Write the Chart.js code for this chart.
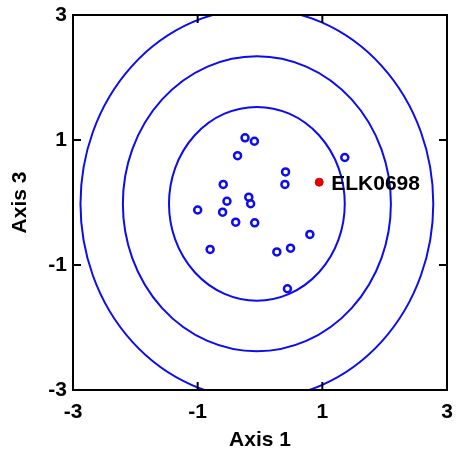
<!DOCTYPE html>
<html>
<head>
<meta charset="utf-8">
<script src="https://cdn.jsdelivr.net/npm/chart.js@4/dist/chart.umd.min.js"></script>
<style>
  html, body { margin: 0; padding: 0; background: #fff; }
  #wrap { width: 457px; height: 456px; }
</style>
</head>
<body>
<div id="wrap"><canvas id="chart"></canvas></div>
<script>
// sample scores on axis 1 / axis 3
const axis1 = [-0.24, -0.09, -0.36, 0.41, 1.36, -0.59, 0.40, -0.18, -0.15, -0.53,
  -1.00, -0.60, -0.39, -0.085, 0.80, -0.80, 0.27, 0.49, 0.44];
const axis3 = [1.035, 0.98, 0.75, 0.49, 0.72, 0.29, 0.29, 0.085, -0.02, 0.02,
  -0.12, -0.155, -0.315, -0.325, -0.51, -0.75, -0.79, -0.73, -1.38];

// highlighted sample
const markName = ['ELK0698'];
const markX = [0.95];
const markY = [0.325];

// contour ellipses (center + radii)
const ellipseCx = [-0.05, -0.05, -0.05];
const ellipseCy = [-0.02, -0.02, -0.02];
const ellipseRx = [1.41, 2.15, 2.83];
const ellipseRy = [1.55, 2.36, 3.12];

const tickValues = [-3, -1, 1, 3];
const innerTicks = [-1, 1];

const BLUE = '#0c0cf0';
const FONT = { family: '"Liberation Sans", Arial, sans-serif', size: 21, weight: 'bold' };

const ellipsePlugin = {
  id: 'ellipses',
  beforeDatasetsDraw(chart) {
    const { ctx, chartArea, scales: { x, y } } = chart;
    ctx.save();
    ctx.beginPath();
    ctx.rect(chartArea.left, chartArea.top, chartArea.right - chartArea.left, chartArea.bottom - chartArea.top);
    ctx.clip();
    ctx.strokeStyle = BLUE;
    ctx.lineWidth = 2;
    for (let i = 0; i < ellipseRx.length; i++) {
      const cx = x.getPixelForValue(ellipseCx[i]);
      const cy = y.getPixelForValue(ellipseCy[i]);
      const rx = Math.abs(x.getPixelForValue(ellipseCx[i] + ellipseRx[i]) - cx);
      const ry = Math.abs(y.getPixelForValue(ellipseCy[i] + ellipseRy[i]) - cy);
      ctx.beginPath();
      ctx.ellipse(cx, cy, rx, ry, 0, 0, Math.PI * 2);
      ctx.stroke();
    }
    ctx.restore();
  }
};

const framePlugin = {
  id: 'frame',
  afterDraw(chart) {
    const { ctx, chartArea: a, scales: { x, y } } = chart;
    ctx.save();
    ctx.strokeStyle = '#000';
    ctx.lineWidth = 2;
    ctx.strokeRect(a.left, a.top, a.right - a.left, a.bottom - a.top);
    const len = 8;
    ctx.beginPath();
    innerTicks.forEach(v => {
      const px = x.getPixelForValue(v);
      ctx.moveTo(px, a.bottom); ctx.lineTo(px, a.bottom - len);
      ctx.moveTo(px, a.top); ctx.lineTo(px, a.top + len);
      const py = y.getPixelForValue(v);
      ctx.moveTo(a.left, py); ctx.lineTo(a.left + len, py);
      ctx.moveTo(a.right, py); ctx.lineTo(a.right - len, py);
    });
    ctx.stroke();

    // label for highlighted sample
    ctx.fillStyle = '#000';
    ctx.font = 'bold 21px "Liberation Sans", Arial, sans-serif';
    ctx.textBaseline = 'middle';
    markName.forEach((name, i) => {
      const px = x.getPixelForValue(markX[i]);
      const py = y.getPixelForValue(markY[i]);
      ctx.fillText(name, px + 12, py + 2);
    });
    ctx.restore();
  }
};

new Chart(document.getElementById('chart'), {
  type: 'scatter',
  data: {
    datasets: [
      {
        data: axis1.map((v, i) => ({ x: v, y: axis3[i] })),
        backgroundColor: 'rgba(0,0,0,0)',
        borderColor: BLUE,
        borderWidth: 2.5,
        pointRadius: 3.5
      },
      {
        data: markX.map((v, i) => ({ x: v, y: markY[i] })),
        backgroundColor: '#e00000',
        borderColor: '#e00000',
        borderWidth: 1,
        pointRadius: 4
      }
    ]
  },
  options: {
    responsive: true,
    maintainAspectRatio: false,
    animation: false,
    events: [],
    layout: { padding: { top: 15, right: 10, left: 0, bottom: 0 } },
    plugins: { legend: { display: false }, tooltip: { enabled: false } },
    scales: {
      x: {
        type: 'linear',
        min: -3, max: 3,
        afterBuildTicks: s => { s.ticks = tickValues.map(v => ({ value: v })); },
        afterFit: s => { s.height = 66; s.paddingLeft = 0; s.paddingRight = 0; },
        grid: { display: false, drawTicks: false },
        border: { display: false },
        ticks: { color: '#000', font: FONT, padding: 10, maxRotation: 0 },
        title: { display: true, text: 'Axis 1', color: '#000', font: FONT, padding: { top: 0, bottom: 3 } }
      },
      y: {
        type: 'linear',
        min: -3, max: 3,
        afterBuildTicks: s => { s.ticks = tickValues.map(v => ({ value: v })); },
        afterFit: s => { s.width = 73; s.paddingTop = 0; s.paddingBottom = 0; },
        grid: { display: false, drawTicks: false },
        border: { display: false },
        ticks: { color: '#000', font: FONT, padding: 6 },
        title: { display: true, text: 'Axis 3', color: '#000', font: FONT, padding: { top: 8, bottom: 0 } }
      }
    }
  },
  plugins: [ellipsePlugin, framePlugin]
});
</script>
</body>
</html>
